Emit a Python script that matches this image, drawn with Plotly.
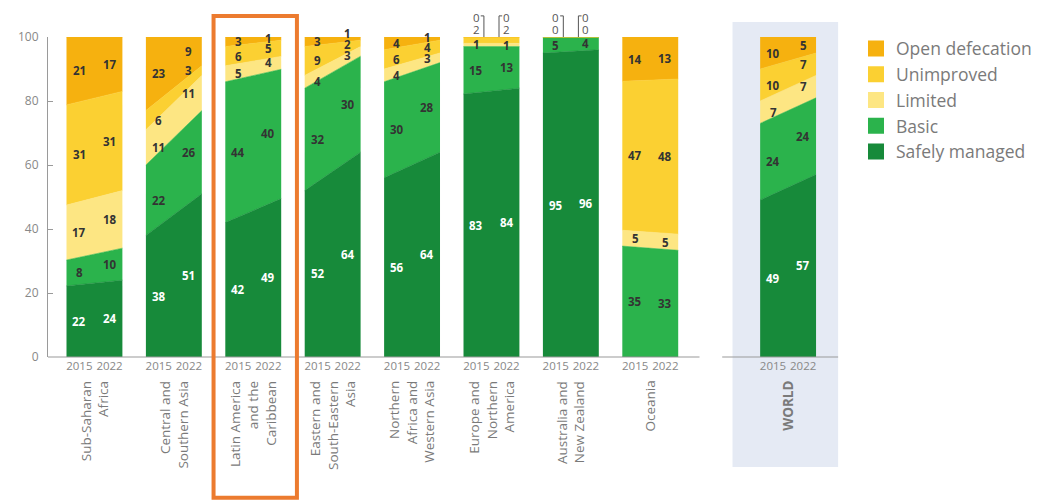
import plotly.graph_objects as go

# ---------------- data ----------------
regions = ["Sub-Saharan<br>Africa", "Central and<br>Southern Asia",
           "Latin America<br>and the<br>Caribbean", "Eastern and<br>South-Eastern<br>Asia",
           "Northern<br>Africa and<br>Western Asia", "Europe and<br>Northern<br>America",
           "Australia and<br>New Zealand", "Oceania", "<b>WORLD</b>"]
years = ["2015", "2022"]
categories = ["Safely managed", "Basic", "Limited", "Unimproved", "Open defecation"]

safely_2015 = [22, 38, 42, 52, 56, 83, 95, 0, 49]
safely_2022 = [24, 51, 49, 64, 64, 84, 96, 0, 57]
basic_2015 = [8, 22, 44, 32, 30, 15, 5, 35, 24]
basic_2022 = [10, 26, 40, 30, 28, 13, 4, 33, 24]
limited_2015 = [17, 11, 5, 4, 4, 1, 0, 5, 7]
limited_2022 = [18, 11, 4, 3, 3, 1, 0, 5, 7]
unimproved_2015 = [31, 6, 6, 9, 6, 2, 0, 47, 10]
unimproved_2022 = [31, 3, 5, 2, 4, 2, 0, 48, 7]
open_def_2015 = [21, 23, 3, 3, 4, 0, 0, 14, 10]
open_def_2022 = [17, 9, 1, 1, 1, 0, 0, 13, 5]

values = {
    "Safely managed": (safely_2015, safely_2022),
    "Basic": (basic_2015, basic_2022),
    "Limited": (limited_2015, limited_2022),
    "Unimproved": (unimproved_2015, unimproved_2022),
    "Open defecation": (open_def_2015, open_def_2022),
}
colors = {
    "Safely managed": "#178A3A",
    "Basic": "#2BB34C",
    "Limited": "#FDE683",
    "Unimproved": "#FBD032",
    "Open defecation": "#F6B10F",
}
# regions whose tiny top shares are shown as call-outs above the bar
callout_regions = [5, 6]
callout_cats = {"Unimproved": 102.3, "Open defecation": 106.0}

# ---------------- geometry ----------------
HALF = 0.352
LAB = 0.19
WORLD_GAP = 0.736
X0, X1 = -0.585, 9.377
MIN_SEP = 3.3
pos = [i + (WORLD_GAP if i == len(regions) - 1 else 0) for i in range(len(regions))]


def xp(x):
    return (x - X0) / (X1 - X0)


def spread(mids):
    """Place labels (ordered top-down) at least MIN_SEP apart, centred on their segments."""
    clusters = []
    for m in mids:
        clusters.append([m])
        while len(clusters) > 1:
            a, b = clusters[-2], clusters[-1]
            ca = sum(a) / len(a) + MIN_SEP * (len(a) - 1) / 2
            lowest_a = ca - MIN_SEP * (len(a) - 1)
            cb = sum(b) / len(b) + MIN_SEP * (len(b) - 1) / 2
            if cb > lowest_a - MIN_SEP:
                clusters[-2:] = [a + b]
            else:
                break
    out = []
    for cl in clusters:
        top = sum(cl) / len(cl) + MIN_SEP * (len(cl) - 1) / 2
        out += [top - MIN_SEP * k for k in range(len(cl))]
    return out


fig = go.Figure()

for i, c in enumerate(pos):
    for cat in categories:
        v15, v22 = values[cat][0][i], values[cat][1][i]
        fig.add_trace(go.Scatter(
            x=[c - HALF, c + HALF], y=[v15, v22],
            stackgroup=f"r{i}", groupnorm="percent",
            mode="lines", line=dict(width=0.6, color=colors[cat]),
            fillcolor=colors[cat], showlegend=False, hoverinfo="skip"))

# legend entries
for cat in reversed(categories):
    fig.add_trace(go.Scatter(
        x=[None], y=[None], mode="markers", name=cat, legendgroup=cat,
        marker=dict(symbol="square", size=16, color=colors[cat]),
        showlegend=True))

annotations = []
shapes = []
for i, c in enumerate(pos):
    for j in range(2):
        total = sum(values[cat][j][i] for cat in categories)
        lx = c - LAB if j == 0 else c + LAB
        cum = 0.0
        segs = []
        for cat in categories:
            v = values[cat][j][i]
            bottom = cum / total * 100
            cum += v
            top = cum / total * 100
            segs.append((cat, v, (bottom + top) / 2))
        inplace = []
        for cat, v, mid in reversed(segs):
            if i in callout_regions and cat in callout_cats:
                annotations.append(dict(
                    x=lx, y=callout_cats[cat] / 100, xref="x", yref="paper", text=str(v),
                    xanchor="center", yanchor="middle", showarrow=False,
                    font=dict(family="Open Sans, Arial", size=11.5, color="#555555")))
            elif v != 0:
                inplace.append((cat, v, mid))
        ys = spread([m for _, _, m in inplace])
        for (cat, v, _), y in zip(inplace, ys):
            col = "#FFFFFF" if cat == "Safely managed" else "#333333"
            annotations.append(dict(
                x=lx, y=y / 100, xref="x", yref="paper", text=f"<b>{v}</b>",
                xanchor="center", yanchor="middle", showarrow=False,
                font=dict(family="Open Sans, Arial", size=11.5, color=col)))
        if i in callout_regions:
            bx = lx + 0.095 if j == 0 else lx - 0.095
            hk = -0.04 if j == 0 else 0.04
            shapes.append(dict(
                type="path", xref="paper", yref="paper",
                path=f"M {xp(bx + hk)} 1.066 L {xp(bx)} 1.066 L {xp(bx)} 1.0",
                line=dict(color="#555555", width=1)))

# year tick labels
tickvals, ticktext = [], []
for c in pos:
    tickvals += [c - LAB, c + LAB]
    ticktext += years

# region labels
for i, c in enumerate(pos):
    annotations.append(dict(
        x=c, y=-0.068, xref="x", yref="paper", text=regions[i], textangle=-90,
        xanchor="center", yanchor="top", align="right", showarrow=False,
        font=dict(family="Open Sans, Arial", size=13.5, color="#7a7a7a")))

wc = pos[-1]
# WORLD panel background
shapes.append(dict(type="rect", xref="paper", yref="paper", layer="below",
                   x0=xp(wc - 0.7), x1=xp(wc + 0.63), y0=-0.344, y1=1.047,
                   fillcolor="#E5EAF4", line=dict(width=0)))
# baselines
shapes.append(dict(type="line", xref="paper", yref="paper",
                   x0=0, x1=xp(pos[7] + 0.62), y0=0, y1=0,
                   line=dict(color="#9a9a9a", width=1.2)))
shapes.append(dict(type="line", xref="paper", yref="paper",
                   x0=xp(wc - 0.83), x1=xp(wc + 0.63), y0=0, y1=0,
                   line=dict(color="#9a9a9a", width=1.2)))
# highlight box around Latin America
shapes.append(dict(type="rect", xref="paper", yref="paper",
                   x0=xp(pos[2] - 0.5), x1=xp(pos[2] + 0.55), y0=-0.44, y1=1.066,
                   fillcolor="rgba(0,0,0,0)", line=dict(color="#EC7B2F", width=4)))

fig.update_layout(
    width=1048, height=500,
    margin=dict(l=48, r=208, t=37, b=143),
    paper_bgcolor="white", plot_bgcolor="rgba(0,0,0,0)",
    font=dict(family="Open Sans, Arial", color="#7a7a7a"),
    xaxis=dict(range=[X0, X1], showgrid=False, zeroline=False, showline=False,
               tickvals=tickvals, ticktext=ticktext, ticks="",
               tickfont=dict(size=11.5, color="#888888")),
    yaxis=dict(range=[0, 100], showgrid=False, zeroline=False, showline=True,
               linecolor="#9a9a9a", linewidth=1.2, ticks="inside", ticklen=5,
               tickcolor="#9a9a9a", tickvals=[0, 20, 40, 60, 80, 100],
               ticklabelstandoff=6,
               tickfont=dict(size=12, color="#888888")),
    legend=dict(x=(856 - 48) / 792, y=1.02, xanchor="left", yanchor="top",
                traceorder="grouped", tracegroupgap=0,
                font=dict(size=17.5, color="#7a7a7a"), bgcolor="rgba(0,0,0,0)"),
    annotations=annotations, shapes=shapes, hovermode=False,
)

fig.write_html("out.html")
